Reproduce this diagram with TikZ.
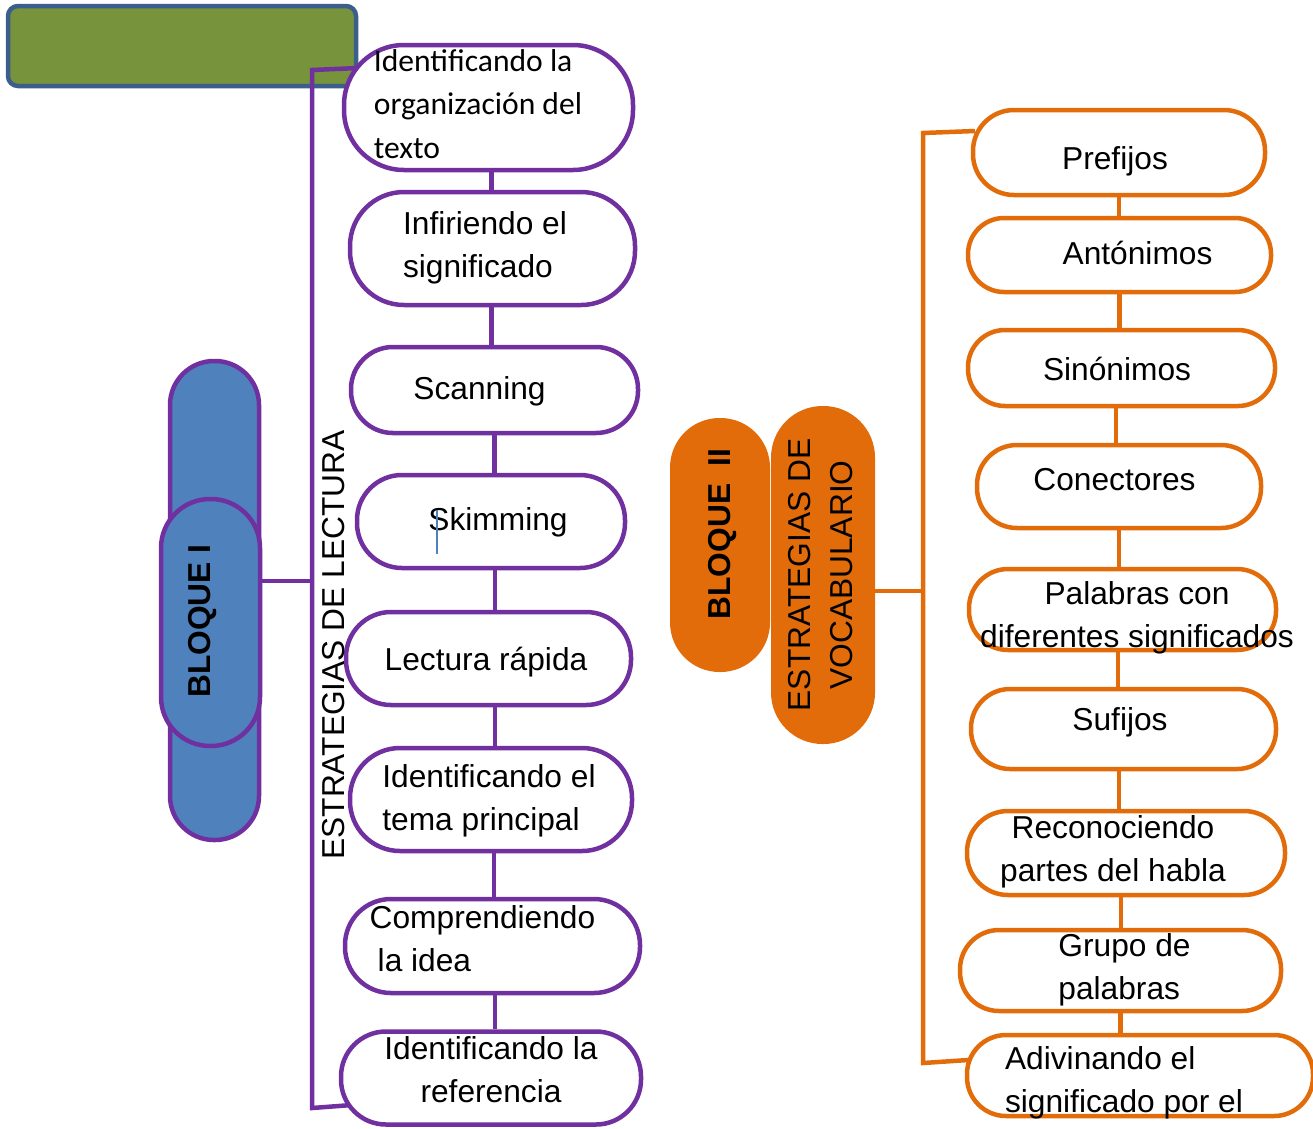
\documentclass[tikz,border=0pt]{standalone}
\usepackage{fontspec}
\setmainfont{Liberation Sans}
\newfontfamily\carlitofont{Carlito}
\definecolor{pur}{HTML}{7030A0}
\definecolor{ora}{HTML}{E36C0A}
\definecolor{grn}{HTML}{77933C}
\definecolor{grb}{HTML}{3B5E8C}
\definecolor{blu}{HTML}{4F81BD}
\newcommand\place[3]{\raisebox{#2}{\makebox[0pt]{\hspace{#1}#3}}}
\newcommand\lines[2]{\begin{tabular}[b]{@{}#1@{}}#2\end{tabular}}
\begin{document}
\begin{tikzpicture}[x=1pt,y=-1pt,
  txt/.style={font=\fontsize{31.7}{43}\selectfont, text height=0pt, text depth=0pt, inner sep=0pt},
  sz/.style n args={3}{minimum width=#1pt, minimum height=#2pt, rounded corners=#3pt},
  pbox/.style={txt, draw=pur, line width=4.5pt, fill=white},
  obox/.style={txt, draw=ora, line width=4.5pt, fill=white},
  plink/.style={draw=pur, line width=4.5pt},
  olink/.style={draw=ora, line width=4.5pt},
  bold/.style={font=\bfseries\fontsize{31.7}{43}\selectfont}
]
\useasboundingbox (0,0) rectangle (1313,1128);

% title box
\node[draw=grb, line width=4.5pt, fill=grn, minimum width=348pt, minimum height=80pt, rounded corners=10pt, inner sep=0pt] (title) at (182,46) {};

% Bloque I
\node[draw=pur, line width=4.5pt, fill=blu, inner sep=0pt, sz={89}{479}{44}] (b1a) at (214.5,600.5) {};
\node[draw=pur, line width=4.5pt, fill=blu, txt, bold, rotate=90, sz={247}{99}{49}] (b1b) at (210.5,622.5) {\place{3pt}{0pt}{BLOQUE I}};

% left bracket
\coordinate (lt) at (358,68);
\coordinate (ltc) at (312,70);
\coordinate (lbc) at (312,1108);
\coordinate (lb) at (352,1105);
\coordinate (lj) at (312,581);
\draw[plink] (lt) -- (ltc) -- (lbc) -- (lb);
\draw[plink] (b1b.south |- lj) -- (lj);

% left column
\node[pbox, sz={289}{125}{60}] (p1) at (488.5,107.5) {\place{-21pt}{-50.5pt}{\carlitofont\fontsize{31.6}{43.5}\selectfont\lines{l}{Identificando la\\organización del\\texto}}};
\node[pbox, sz={285}{113}{54}] (p2) at (492.5,248.5) {\place{-15pt}{-28.5pt}{\lines{l}{Infiriendo el\\significado}}};
\node[pbox, sz={287}{86}{42}] (p3) at (494.5,390) {\place{-30pt}{-9pt}{Scanning}};
\node[pbox, sz={268}{93}{45}] (p4) at (491,521.5) {\place{14pt}{-9pt}{Skimming}};
\node[pbox, sz={285}{93}{45}] (p5) at (488.5,658.5) {\place{-5pt}{-11.5pt}{Lectura rápida}};
\node[pbox, sz={282}{103}{50}] (p6) at (491,799.5) {\place{-4pt}{-30.5pt}{\lines{l}{Identificando el\\tema principal}}};
\node[pbox, sz={295}{94}{46}] (p7) at (492.5,946) {\place{-20pt}{-25pt}{\lines{l}{Comprendiendo\\\hspace*{8pt}la idea}}};
\node[pbox, sz={300}{93}{45}] (p8) at (491,1078) {\place{0pt}{-24pt}{\lines{c}{Identificando la\\referencia}}};

\draw[plink] ([xshift=3pt]p1.south) -- ([xshift=3pt]p1.south |- p2.north);
\draw[plink] ([xshift=-1pt]p2.south) -- ([xshift=-1pt]p2.south |- p3.north);
\draw[plink] (p3.south) -- (p3.south |- p4.north);
\draw[plink] ([xshift=4pt]p4.south) -- ([xshift=4pt]p4.south |- p5.north);
\draw[plink] ([xshift=6.5pt]p5.south) -- ([xshift=6.5pt]p5.south |- p6.north);
\draw[plink] ([xshift=3pt]p6.south) -- ([xshift=3pt]p6.south |- p7.north);
\draw[plink] ([xshift=2.5pt]p7.south) -- ([xshift=2.5pt]p7.south |- p8.north);

% text cursor mark
\draw[blu, line width=1.5pt] (437,510) -- (437,554);

% vertical label
\node[txt, rotate=90] (lect) at (333.5,645) {\place{0pt}{-11.3pt}{ESTRATEGIAS DE LECTURA}};

% Bloque II
\node[fill=ora, txt, bold, rotate=90, sz={254}{100}{49.5}] (b2a) at (720,545) {\place{22pt}{-10.8pt}{BLOQUE~~II}};
\node[fill=ora, txt, font=\fontsize{31.7}{42}\selectfont, rotate=90, sz={338}{104}{51.5}] (b2b) at (823,575) {\place{0pt}{-29.8pt}{\lines{c}{ESTRATEGIAS DE\\VOCABULARIO}}};

% right bracket
\coordinate (ot) at (975,131);
\coordinate (otc) at (923,133);
\coordinate (obc) at (923,1063);
\coordinate (ob) at (968,1060);
\coordinate (oj) at (923,591);
\draw[olink] (ot) -- (otc) -- (obc) -- (ob);
\draw[olink] (b2b.south |- oj) -- (oj);

% right column
\node[obox, sz={292}{85}{41}] (r1) at (1119,152.5) {\place{-8pt}{-17pt}{Prefijos}};
\node[obox, sz={303}{74}{36}] (r2) at (1119.5,255) {\place{36pt}{-9pt}{Antónimos}};
\node[obox, sz={307}{76}{37}] (r3) at (1121.5,368) {\place{-9pt}{-12.5pt}{Sinónimos}};
\node[obox, sz={284}{83}{40}] (r4) at (1119,486.5) {\place{-9pt}{-4pt}{Conectores}};
\node[obox, sz={307}{81}{39}] (r5) at (1122.5,609.5) {\place{29pt}{-37.5pt}{\lines{c}{Palabras con\\diferentes significados}}};
\node[obox, sz={305}{80}{39}] (r6) at (1123.5,729) {\place{-7pt}{-1.5pt}{Sufijos}};
\node[obox, sz={318}{84}{41}] (r7) at (1126,853) {\place{-26pt}{-28pt}{\lines{c}{Reconociendo\\partes del habla}}};
\node[obox, sz={321}{81}{39}] (r8) at (1120.5,970.5) {\place{8pt}{-28.5pt}{\lines{l}{Grupo de\\palabras}}};
\node[obox, sz={346}{81}{39}] (r9) at (1140,1075.5) {\place{-32pt}{-36.5pt}{\lines{l}{Adivinando el\\significado por el}}};

\draw[olink] (r1.south) -- (r1.south |- r2.north);
\draw[olink] (r2.south) -- (r2.south |- r3.north);
\draw[olink] ([xshift=-5.5pt]r3.south) -- ([xshift=-5.5pt]r3.south |- r4.north);
\draw[olink] (r4.south) -- (r4.south |- r5.north);
\draw[olink] ([xshift=-4.5pt]r5.south) -- ([xshift=-4.5pt]r5.south |- r6.north);
\draw[olink] ([xshift=-4.5pt]r6.south) -- ([xshift=-4.5pt]r6.south |- r7.north);
\draw[olink] ([xshift=-5pt]r7.south) -- ([xshift=-5pt]r7.south |- r8.north);
\draw[olink] (r8.south) -- (r8.south |- r9.north);
\end{tikzpicture}
\end{document}
